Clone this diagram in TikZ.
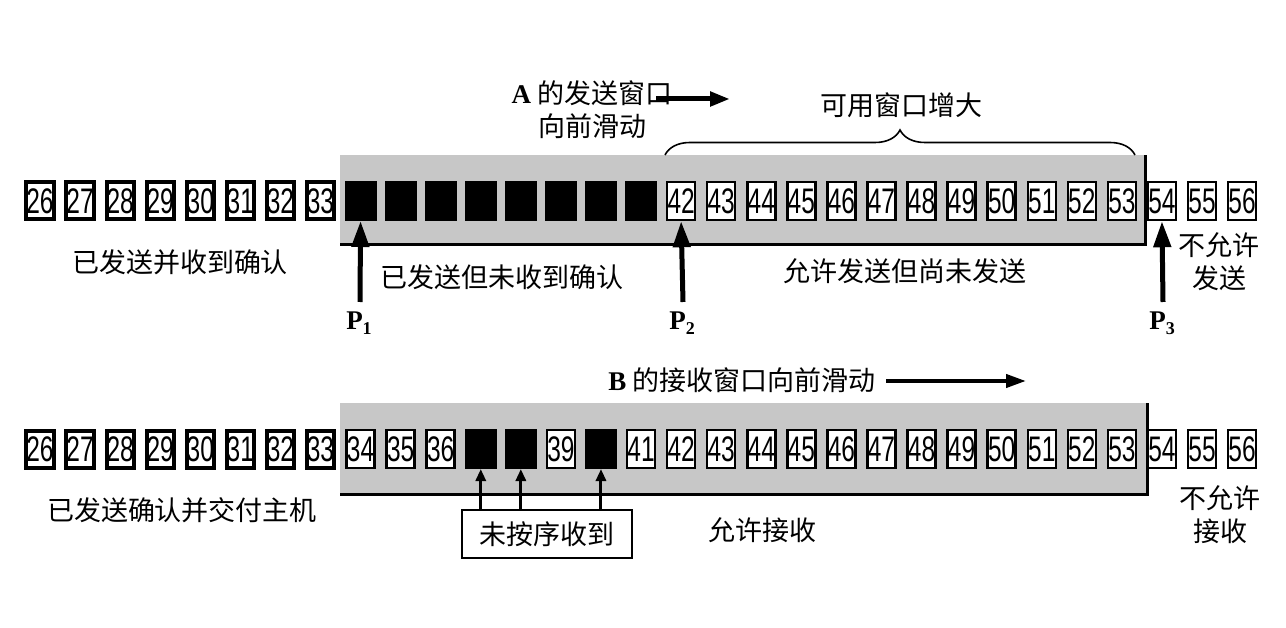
\documentclass[tikz,border=0pt]{standalone}
\usepackage{fontspec}
\usepackage{graphicx}
\setmainfont{Liberation Serif}
\newfontfamily\cjk{Noto Sans CJK SC}
\newfontfamily\digitfont{Liberation Sans}
\usetikzlibrary{arrows.meta,decorations.pathreplacing}
\definecolor{wingray}{gray}{0.78}
\newcommand\dg[1]{\scalebox{1}[1.45]{#1}}
\newcommand\plab[1]{\textbf{P}\raisebox{-0.4ex}{\fontsize{18}{18}\selectfont\bfseries #1}}
\begin{document}
\begin{tikzpicture}[x=1pt,y=-1pt,
  numbox/.style={draw=black,fill=white,line width=2.5pt,minimum width=28pt,minimum height=38pt,inner sep=0pt,
    font=\digitfont\fontsize{24.5}{24.5}\selectfont},
  oldbox/.style={numbox,line width=4pt,minimum width=27pt,minimum height=37pt},
  blackbox/.style={draw=black,fill=black,line width=1pt,minimum width=31pt,minimum height=39pt,inner sep=0pt},
  lbl/.style={font=\cjk\fontsize{27}{33}\selectfont,inner sep=0pt,align=center},
  plbl/.style={font=\fontsize{27}{27}\selectfont,inner sep=0pt,anchor=north},
  bigarrow/.style={line width=5pt,-{Triangle[length=26pt,width=17pt]}},
  midarrow/.style={line width=5pt,-{Triangle[length=20pt,width=14pt]}},
  smallarrow/.style={line width=3pt,-{Triangle[length=12pt,width=10pt]}},
  bracestyle/.style={line width=1.6pt,decorate,decoration={brace,amplitude=25pt}}
]
\useasboundingbox (0,0) rectangle (1286,628);

% ---------------- sender (A) ----------------
\fill[wingray] (340,155) rectangle (1145,245);
\draw[line width=3pt] (340,245) -- (1145,245) -- (1145,155);

\foreach \i in {26,...,33}
  \node[oldbox] (t\i) at ({40+(\i-26)*40.07},201) {\dg{\i}};
\foreach \i in {34,...,41}
  \node[blackbox] (t\i) at ({40+(\i-26)*40.07},201) {};
\foreach \i in {42,...,56}
  \node[numbox] (t\i) at ({40+(\i-26)*40.07},201) {\dg{\i}};

\node[lbl] (sentack) at (180,262) {已发送并收到确认};
\node[lbl] (sentnoack) at (502,277) {已发送但未收到确认};
\node[lbl] (allowsend) at (905,271) {允许发送但尚未发送};
\node[lbl] (nosend) at (1219,262) {不允许\\发送};

\node[plbl] (P1) at (359,312) {\plab{1}};
\node[plbl] (P2) at (682,312) {\plab{2}};
\node[plbl] (P3) at (1162,312) {\plab{3}};
\draw[bigarrow] ([xshift=1pt,yshift=10pt]P1.north) -- (t34.south);
\draw[bigarrow] ([xshift=1pt,yshift=10pt]P2.north) -- (t42.south);
\draw[bigarrow] ([xshift=1pt,yshift=10pt]P3.north) -- (t54.south);

\node[lbl] (atext) at (592,110) {{\rmfamily\bfseries A} 的发送窗口\\向前滑动};
\coordinate (aA) at (656,99);
\coordinate (aB) at (730,99);
\draw[midarrow] (aA) -- (aB);

\coordinate (brl) at (665,155);
\coordinate (brr) at (1135,155);
\draw[bracestyle] (brl) -- (brr);
\node[lbl] (avail) at (901,105) {可用窗口增大};

% ---------------- receiver (B) ----------------
\fill[wingray] (340,403) rectangle (1147,494);
\draw[line width=3pt] (340,494) -- (1147,494) -- (1147,403);

\foreach \i in {26,...,33}
  \node[oldbox] (b\i) at ({40+(\i-26)*40.07},449) {\dg{\i}};
\foreach \i in {34,35,36,39,41,42,43,44,45,46,47,48,49,50,51,52,53,54,55,56}
  \node[numbox] (b\i) at ({40+(\i-26)*40.07},449) {\dg{\i}};
\foreach \i in {37,38,40}
  \node[blackbox] (b\i) at ({40+(\i-26)*40.07},449) {};

\node[lbl] (btext) at (742,380) {{\rmfamily\bfseries B} 的接收窗口向前滑动};
\coordinate (bA) at (886,381);
\coordinate (bB) at (1026,381);
\draw[line width=4pt,-{Triangle[length=20pt,width=13pt]}] (bA) -- (bB);

\node[lbl] (delivered) at (182,510) {已发送确认并交付主机};
\node[lbl,draw=black,line width=2pt,minimum width=170pt,minimum height=48pt] (ooo) at (547,534) {未按序收到};
\node[lbl] (allowrecv) at (762,530) {允许接收};
\node[lbl] (norecv) at (1220,515) {不允许\\接收};

\draw[smallarrow] (ooo.north -| b37.south) -- (b37.south);
\draw[smallarrow] (ooo.north -| b38.south) -- (b38.south);
\draw[smallarrow] (ooo.north -| b40.south) -- (b40.south);
\end{tikzpicture}
\end{document}
